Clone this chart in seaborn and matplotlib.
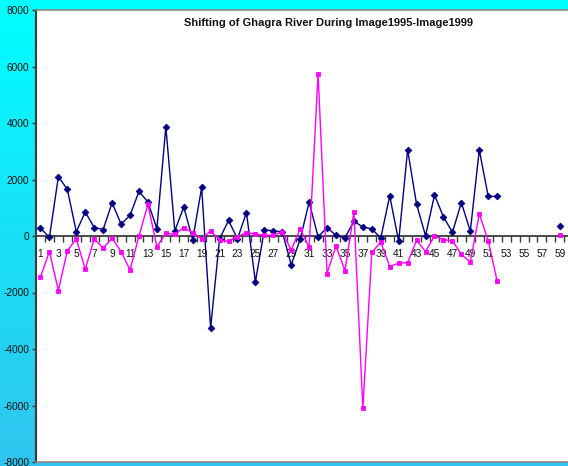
import numpy as np
import pandas as pd
import matplotlib
matplotlib.use("Agg")
import matplotlib.pyplot as plt
import matplotlib.markers as mmarkers
import seaborn as sns

# Category numbers (cross-section ids); 53-58 have no observations
categories = list(range(1, 60))

series1 = [280, -50, 2100, 1650, 150, 850, 300, 230, 1180, 420,
           730, 1580, 1200, 260, 3870, 180, 1030, -130, 1720, -3250,
           -100, 550, -100, 830, -1620, 220, 180, 150, -1020, -120,
           1200, -30, 300, 20, -60, 520, 320, 250, -70, 1420,
           -190, 3050, 1120, 10, 1450, 680, 130, 1180, 170, 3050,
           1400, 1400, None, None, None, None, None, None, 370]

series2 = [-1450, -550, -1930, -520, -100, -1180, -100, -430, -80, -550,
           -1200, 0, 1120, -380, 100, 60, 300, 120, -100, 180,
           -150, -180, -20, 120, 70, 24, 24, 150, -500, 260,
           -400, 5750, -1330, -350, -1230, 850, -6100, -580, -220, -1080,
           -960, -940, -150, -550, 0, -130, -165, -650, -920, 780,
           -170, -1600, None, None, None, None, None, None, 50]

series_names = ["Series1", "Series2"]
colors = {"Series1": "#000080", "Series2": "#FF00FF"}

title = "Shifting of Ghagra River During Image1995-Image1999"
y_ticks = list(range(-8000, 8001, 2000))
x_labels = [c for c in categories if c % 2 == 1]


def to_frame(name, values):
    rows = []
    seg = 0
    prev_missing = False
    for c, v in zip(categories, values):
        if v is None:
            prev_missing = True
            continue
        if prev_missing:
            seg += 1
            prev_missing = False
        rows.append({"cat": c, "val": v, "series": name, "seg": seg})
    return pd.DataFrame(rows)


df1 = to_frame("Series1", series1)
df2 = to_frame("Series2", series2)

sns.set_style("white")
plt.rcParams["font.family"] = ["Liberation Sans", "DejaVu Sans"]

W, H = 568, 466
fig = plt.figure(figsize=(W / 100, H / 100), dpi=100)

# Cyan gradient backdrop behind the chart
bg = fig.add_axes([0, 0, 1, 1], zorder=-10)
top = np.array([0, 255, 255]) / 255
bottom = np.array([48, 196, 240]) / 255
t = np.linspace(0, 1, 256)[:, None]
grad = (top[None, :] * (1 - t) + bottom[None, :] * t)[:, None, :]
bg.imshow(grad, aspect="auto", extent=[0, 1, 0, 1])
bg.set_axis_off()

left_px, right_px, top_px, bot_px = 36, 568, 10, 462
ax = fig.add_axes([left_px / W, (H - bot_px) / H,
                   (right_px - left_px) / W, (bot_px - top_px) / H])
ax.set_facecolor("white")

ax.axhline(0, color="#3a3a3a", lw=1.3, zorder=1)

sns.lineplot(data=df1, x="cat", y="val", units="seg", estimator=None,
             color=colors["Series1"], marker="D", markersize=3.4,
             markeredgecolor=colors["Series1"], markeredgewidth=0.6,
             lw=1.0, ax=ax, zorder=3, legend=False)
sns.lineplot(data=df2, x="cat", y="val", units="seg", estimator=None,
             color=colors["Series2"], marker="s", markersize=3.5,
             markeredgecolor=colors["Series2"], markeredgewidth=0.6,
             lw=1.0, ax=ax, zorder=4, legend=False)

ax.set_xlim(0.5, 0.5 + (right_px - left_px) / 8.955)
ax.set_ylim(-8000, 8000)
ax.set_xlabel("")
ax.set_ylabel("")

# Category tick marks on the zero line, at category boundaries
bounds = [c + 0.5 for c in categories]
ax.plot(bounds, [0] * len(bounds), linestyle="none",
        marker=mmarkers.TICKDOWN, markersize=4, markeredgewidth=1.0,
        color="#3a3a3a", zorder=2)

# Category labels just below the zero line
for c in x_labels:
    ax.annotate(str(c), xy=(c, 0), xytext=(0, -18), textcoords="offset pixels",
                ha="center", va="center", fontsize=7.3, color="#111111")

ax.set_xticks([])
ax.set_yticks(y_ticks)
ax.set_yticklabels([str(v) for v in y_ticks], fontsize=7.3, color="#111111")
ax.tick_params(axis="y", direction="out", length=3, width=1, pad=2,
               color="#3a3a3a", left=True)

ax.spines["right"].set_visible(False)
ax.spines["left"].set_color("#3a3a3a")
ax.spines["left"].set_linewidth(1.5)
ax.spines["top"].set_color("#8a8a8a")
ax.spines["top"].set_linewidth(1.2)
ax.spines["bottom"].set_color("#8a8a8a")
ax.spines["bottom"].set_linewidth(1.2)

fig.text(329 / W, 1 - 23 / H, title, ha="center", va="center",
         fontsize=8, fontweight="bold", color="#111111")

fig.savefig("out.png", dpi=100)
